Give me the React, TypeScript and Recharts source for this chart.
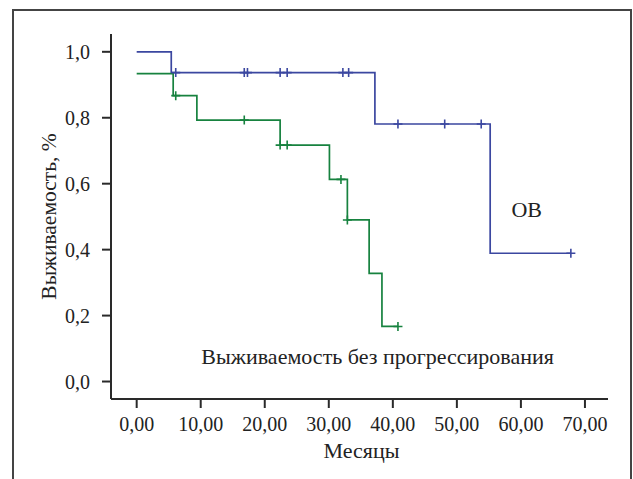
import {
  ComposedChart,
  Line,
  Scatter,
  XAxis,
  YAxis,
  ReferenceDot,
} from "recharts";

// Kaplan-Meier steps (months, survival)
const osSteps = [
  { x: 0, y: 1.0 },
  { x: 5.4, y: 0.937 },
  { x: 37.2, y: 0.781 },
  { x: 55.2, y: 0.389 },
  { x: 67.8, y: 0.389 },
];

const osCensored = [
  { x: 6.1, y: 0.937 },
  { x: 16.8, y: 0.937 },
  { x: 17.3, y: 0.937 },
  { x: 22.4, y: 0.937 },
  { x: 23.5, y: 0.937 },
  { x: 32.2, y: 0.937 },
  { x: 33.1, y: 0.937 },
  { x: 40.8, y: 0.781 },
  { x: 48.1, y: 0.781 },
  { x: 53.8, y: 0.781 },
  { x: 67.8, y: 0.389 },
];

const pfsSteps = [
  { x: 0, y: 0.934 },
  { x: 5.7, y: 0.867 },
  { x: 9.4, y: 0.793 },
  { x: 22.4, y: 0.717 },
  { x: 30.1, y: 0.613 },
  { x: 32.9, y: 0.49 },
  { x: 36.3, y: 0.328 },
  { x: 38.3, y: 0.167 },
  { x: 40.8, y: 0.167 },
];

const pfsCensored = [
  { x: 6.1, y: 0.867 },
  { x: 16.8, y: 0.793 },
  { x: 22.4, y: 0.717 },
  { x: 23.5, y: 0.717 },
  { x: 31.9, y: 0.613 },
  { x: 32.9, y: 0.49 },
  { x: 40.8, y: 0.167 },
];

const xTicks = [0, 10, 20, 30, 40, 50, 60, 70];
const yTicks = [0, 0.2, 0.4, 0.6, 0.8, 1.0];

const BLUE = "#3b47a0";
const GREEN = "#17823f";
const AXIS = "#2a2a2a";
const FONT = "'Liberation Serif', 'Times New Roman', serif";

const fmtX = (v: number) => v.toFixed(2).replace(".", ",");
const fmtY = (v: number) => v.toFixed(1).replace(".", ",");

const makeCross = (color: string) => (props: any) => {
  const { cx, cy } = props;
  return (
    <path
      d={`M${cx - 4.5},${cy}H${cx + 4.5}M${cx},${cy - 4.5}V${cy + 4.5}`}
      stroke={color}
      strokeWidth={1.6}
      fill="none"
    />
  );
};

const tickStyle = { fontFamily: FONT, fontSize: 20, fill: "#222" };

const YLabel = (props: any) => {
  const { viewBox } = props;
  const cx = viewBox.x + viewBox.width - 62;
  const cy = viewBox.y + viewBox.height / 2;
  return (
    <text
      x={cx}
      y={cy}
      transform={`rotate(-90 ${cx} ${cy})`}
      textAnchor="middle"
      dominantBaseline="central"
      fontFamily={FONT}
      fontSize={21.5}
      fill="#222"
    >
      Выживаемость, %
    </text>
  );
};

const XLabel = (props: any) => {
  const { viewBox } = props;
  return (
    <text
      x={viewBox.x + viewBox.width / 2 + 2}
      y={viewBox.y + 59}
      textAnchor="middle"
      fontFamily={FONT}
      fontSize={22}
      fill="#222"
    >
      Месяцы
    </text>
  );
};

const App = () => (
  <div
    style={{
      position: "absolute",
      left: 0,
      top: 0,
      width: 633,
      height: 479,
      overflow: "hidden",
      background: "#fff",
    }}
  >
    <div
      style={{
        position: "absolute",
        left: 12,
        top: 9,
        width: 620,
        height: 520,
        border: "2px solid #444",
        boxSizing: "border-box",
      }}
    />
    <div style={{ position: "absolute", left: 0, top: 0 }}>
      <ComposedChart
        width={633}
        height={479}
        margin={{ top: 34, right: 25, left: 41, bottom: 20 }}
      >
        <XAxis
          type="number"
          dataKey="x"
          domain={[-4.01, 73.6]}
          ticks={xTicks}
          tickFormatter={fmtX}
          allowDataOverflow
          height={60}
          tickSize={9}
          tickMargin={9}
          tick={tickStyle}
          axisLine={{ stroke: AXIS, strokeWidth: 2 }}
          tickLine={{ stroke: AXIS, strokeWidth: 2 }}
          label={<XLabel />}
        />
        <YAxis
          type="number"
          dataKey="y"
          domain={[-0.053, 1.054]}
          ticks={yTicks}
          tickFormatter={fmtY}
          allowDataOverflow
          width={70}
          tickSize={9}
          tickMargin={12}
          tick={tickStyle}
          axisLine={{ stroke: AXIS, strokeWidth: 2 }}
          tickLine={{ stroke: AXIS, strokeWidth: 2 }}
          label={<YLabel />}
        />
        <Line
          data={osSteps}
          dataKey="y"
          type="stepAfter"
          stroke={BLUE}
          strokeWidth={1.7}
          dot={false}
          isAnimationActive={false}
        />
        <Line
          data={pfsSteps}
          dataKey="y"
          type="stepAfter"
          stroke={GREEN}
          strokeWidth={1.7}
          dot={false}
          isAnimationActive={false}
        />
        <Scatter
          data={osCensored}
          dataKey="y"
          shape={makeCross(BLUE)}
          isAnimationActive={false}
        />
        <Scatter
          data={pfsCensored}
          dataKey="y"
          shape={makeCross(GREEN)}
          isAnimationActive={false}
        />
        <ReferenceDot
          x={60.9}
          y={0.522}
          r={0}
          ifOverflow="visible"
          label={{
            value: "ОВ",
            position: "center",
            fontFamily: FONT,
            fontSize: 22,
            fill: "#222",
          }}
        />
        <ReferenceDot
          x={10.1}
          y={0.078}
          r={0}
          ifOverflow="visible"
          label={{
            value: "Выживаемость без прогрессирования",
            position: "right",
            offset: 0,
            fontFamily: FONT,
            fontSize: 22,
            fill: "#222",
          }}
        />
      </ComposedChart>
    </div>
  </div>
);

export default App;
